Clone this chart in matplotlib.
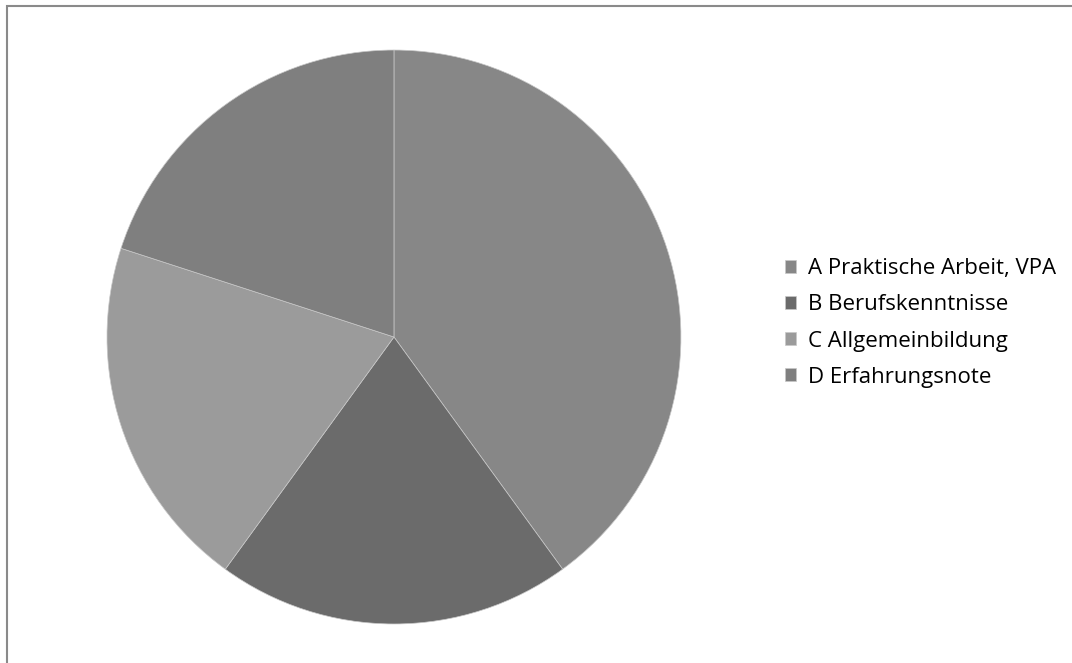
import matplotlib
matplotlib.use("Agg")
import matplotlib.pyplot as plt
from matplotlib.patches import Rectangle

# === Data ===
labels = ["A Praktische Arbeit, VPA", "B Berufskenntnisse",
          "C Allgemeinbildung", "D Erfahrungsnote"]
shares = [40, 20, 20, 20]
colors = ["#878787", "#6b6b6b", "#9b9b9b", "#7f7f7f"]

plt.rcParams['font.family'] = ['Open Sans', 'DejaVu Sans']

fig = plt.figure(figsize=(10.72, 6.63), dpi=100)
ax = fig.add_axes([0.0998, 0.0588, 0.5354, 0.8658])

wedges, _ = ax.pie(shares, colors=colors, startangle=90, counterclock=False,
                   wedgeprops=dict(edgecolor="#c8c8c8", linewidth=0.5))
ax.set_aspect("equal")
ax.set_xlim(-1, 1)
ax.set_ylim(-1, 1)

# outer frame (cut at right/bottom like the reference)
fig.patches.append(Rectangle((0.0065, -0.05), 1.1, 1.041, transform=fig.transFigure,
                             fill=False, edgecolor="#8a8a8a", linewidth=1.5))

fig.legend(wedges, labels, loc="center left", bbox_to_anchor=(0.7323, 0.5128),
           frameon=False, fontsize=16, handlelength=0.5, handleheight=0.5,
           handletextpad=0.55, labelspacing=0.68, borderpad=0, borderaxespad=0)

fig.savefig("out.png", dpi=100)
